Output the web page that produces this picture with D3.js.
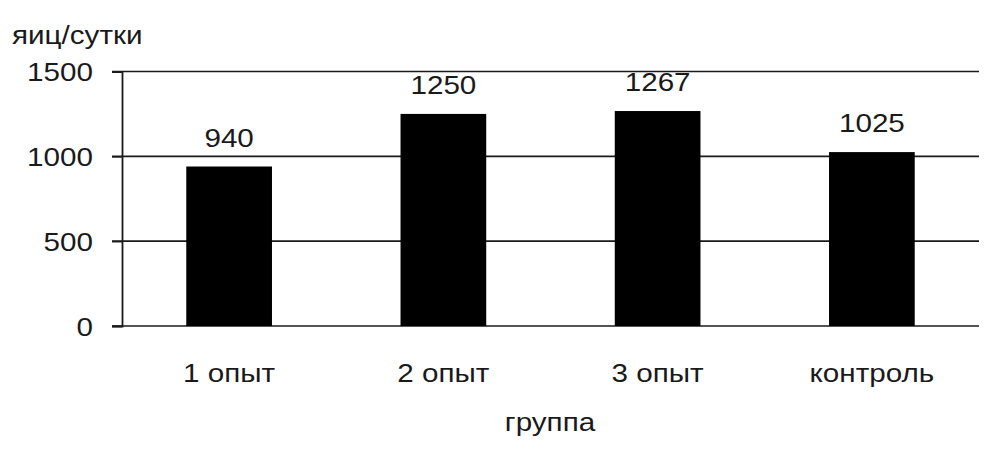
<!DOCTYPE html>
<html>
<head>
<meta charset="utf-8">
<script src="https://cdn.jsdelivr.net/npm/d3@7"></script>
<style>
	body { margin: 0; background: #fff; }
	text { font-family: "Liberation Sans", Arial, sans-serif; fill: #1a1a1a; }
</style>
</head>
<body>
<svg id="chart" width="1001" height="456"></svg>
<script>
var groups = ['1 опыт', '2 опыт', '3 опыт', 'контроль'];
var eggs = [940, 1250, 1267, 1025];
var yTicks = [0, 500, 1000, 1500];
var yTitle = 'яиц/сутки';
var xTitle = 'группа';

var svg = d3.select('#chart');
var plotL = 122, plotR = 979, plotT = 71.5, plotB = 326;
var sx = 1.14; // text is a little wide in the picture
var fs = 26;

var x = d3.scaleBand()
	.domain(groups)
	.range([plotL, plotR])
	.paddingInner(0.6)
	.paddingOuter(0.3);

var y = d3.scaleLinear()
	.domain([0, 1500])
	.range([plotB, plotT]);

// gridlines
svg.append('g')
	.selectAll('line')
	.data(yTicks)
	.enter().append('line')
	.attr('x1', plotL - 10)
	.attr('x2', plotR)
	.attr('y1', function(d) { return y(d); })
	.attr('y2', function(d) { return y(d); })
	.attr('stroke', '#1a1a1a')
	.attr('stroke-width', 1.6);

// bars
svg.append('g')
	.selectAll('rect')
	.data(eggs)
	.enter().append('rect')
	.attr('x', function(d, i) { return x(groups[i]); })
	.attr('y', function(d) { return y(d); })
	.attr('width', x.bandwidth())
	.attr('height', function(d) { return plotB - y(d); })
	.style('fill', '#000');

// y axis
var yAxis = svg.append('g')
	.attr('transform', 'translate(' + plotL + ',0)')
	.call(d3.axisLeft(y).tickValues(yTicks).tickSize(10).tickPadding(0).tickFormat(d3.format('d')));
yAxis.select('.domain').attr('stroke', '#1a1a1a').attr('stroke-width', 1.8);
yAxis.selectAll('.tick line').attr('stroke', '#1a1a1a').attr('stroke-width', 1.6);
yAxis.selectAll('.tick text')
	.attr('x', -29 / sx)
	.attr('dy', '0.36em')
	.attr('transform', 'scale(' + sx + ',1)')
	.style('font-size', fs + 'px')
	.style('fill', '#1a1a1a');

// x axis labels
var xAxis = svg.append('g')
	.attr('transform', 'translate(0,' + plotB + ')')
	.call(d3.axisBottom(x).tickSize(0).tickPadding(0));
xAxis.select('.domain').remove();
xAxis.selectAll('.tick text')
	.attr('y', 56)
	.attr('dy', 0)
	.attr('transform', 'scale(' + sx + ',1)')
	.style('font-size', fs + 'px')
	.style('fill', '#1a1a1a');

// value labels
svg.append('g')
	.selectAll('text')
	.data(eggs)
	.enter().append('text')
	.attr('transform', function(d, i) {
		return 'translate(' + (x(groups[i]) + x.bandwidth() / 2) + ',' + (y(d) - 20) + ') scale(' + sx + ',1)';
	})
	.attr('text-anchor', 'middle')
	.style('font-size', fs + 'px')
	.text(function(d) { return d; });

// titles
svg.append('text')
	.attr('transform', 'translate(12,44) scale(' + sx + ',1)')
	.attr('text-anchor', 'start')
	.style('font-size', fs + 'px')
	.text(yTitle);

svg.append('text')
	.attr('transform', 'translate(550,431) scale(' + sx + ',1)')
	.attr('text-anchor', 'middle')
	.style('font-size', fs + 'px')
	.text(xTitle);
</script>
</body>
</html>
